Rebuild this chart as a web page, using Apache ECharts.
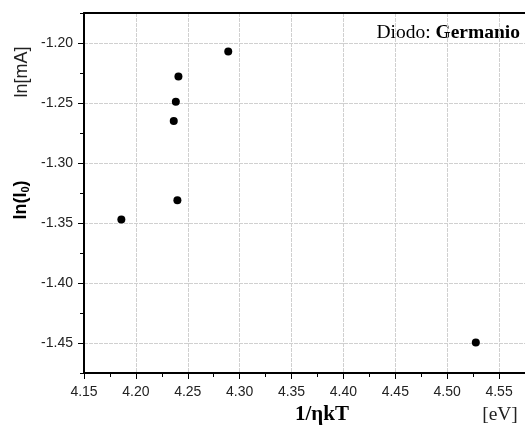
<!DOCTYPE html>
<html>
<head>
<meta charset="utf-8">
<script src="https://cdn.jsdelivr.net/npm/echarts@6/dist/echarts.min.js"></script>
<style>
  html, body { margin: 0; padding: 0; background: #fff; }
  #chart { width: 525px; height: 427px; }
</style>
</head>
<body>
<div id="chart"></div>
<script>
// Measured points: 1/(eta k T) in eV^-1 against ln(I0)
const xValues = [4.289, 4.241, 4.2385, 4.2365, 4.240, 4.186, 4.5276];
const yValues = [-1.207, -1.228, -1.249, -1.265, -1.331, -1.347, -1.4495];

// Axis ranges and tick positions
const xRange = [4.15, 4.575];
const yRange = [-1.475, -1.175];
const xMajorTicks = [4.15, 4.20, 4.25, 4.30, 4.35, 4.40, 4.45, 4.50, 4.55];
const xMinorTicks = [4.175, 4.225, 4.275, 4.325, 4.375, 4.425, 4.475, 4.525, 4.575];
const yMajorTicks = [-1.45, -1.40, -1.35, -1.30, -1.25, -1.20];
const yMinorTicks = [-1.475, -1.425, -1.375, -1.325, -1.275, -1.225, -1.175];

const sans = '"Liberation Sans", Arial, sans-serif';
const serif = '"Liberation Serif", "Times New Roman", serif';

const points = xValues.map((x, i) => [x, yValues[i]]);

const chart = echarts.init(document.getElementById('chart'), null, { renderer: 'canvas' });

const gridLine = { show: true, lineStyle: { color: '#d0d0d0', width: 1, type: [4, 1] } };
const axisBlack = { show: true, onZero: false, lineStyle: { color: '#000', width: 2 } };

chart.setOption({
  backgroundColor: '#fff',
  animation: false,
  grid: { left: 84, right: 0, top: 13, bottom: 54, containLabel: false },
  xAxis: [
    {
      type: 'value', min: xRange[0], max: xRange[1], position: 'bottom',
      axisLine: axisBlack,
      axisTick: { show: true, customValues: xMajorTicks, length: 6, lineStyle: { color: '#000', width: 1 } },
      axisLabel: { customValues: xMajorTicks, formatter: v => v.toFixed(2), color: '#222', fontFamily: sans, fontSize: 14, margin: 12 },
      splitLine: gridLine
    },
    {
      type: 'value', min: xRange[0], max: xRange[1], position: 'bottom',
      axisLine: { show: false },
      axisTick: { show: true, customValues: xMinorTicks, length: 4, lineStyle: { color: '#000', width: 1 } },
      axisLabel: { show: false },
      splitLine: { show: false }
    },
    {
      type: 'value', min: xRange[0], max: xRange[1], position: 'top',
      axisLine: axisBlack,
      axisTick: { show: false },
      axisLabel: { show: false },
      splitLine: { show: false }
    }
  ],
  yAxis: [
    {
      type: 'value', min: yRange[0], max: yRange[1], position: 'left',
      axisLine: axisBlack,
      axisTick: { show: true, customValues: yMajorTicks, length: 6, lineStyle: { color: '#000', width: 1 } },
      axisLabel: { customValues: yMajorTicks, formatter: v => v.toFixed(2), color: '#222', fontFamily: sans, fontSize: 14, margin: 11 },
      splitLine: gridLine
    },
    {
      type: 'value', min: yRange[0], max: yRange[1], position: 'left',
      axisLine: { show: false },
      axisTick: { show: true, customValues: yMinorTicks, length: 4, lineStyle: { color: '#000', width: 1 } },
      axisLabel: { show: false },
      splitLine: { show: false }
    }
  ],
  series: [{
    type: 'scatter',
    xAxisIndex: 0,
    yAxisIndex: 0,
    data: points,
    symbol: 'circle',
    symbolSize: 8,
    itemStyle: { color: '#000', opacity: 1 },
    clip: false
  }],
  graphic: [
    {
      type: 'text', x: 22, y: 72, rotation: Math.PI / 2,
      style: { text: 'ln[mA]', fontFamily: sans, fontSize: 18, fill: '#222', align: 'center', verticalAlign: 'middle' }
    },
    {
      type: 'text', x: 21, y: 200, rotation: Math.PI / 2,
      style: {
        text: '{a|ln(I}{s|0}{a|)}', align: 'center', verticalAlign: 'middle',
        rich: {
          a: { fontFamily: sans, fontSize: 18, fontWeight: 'bold', fill: '#000', lineHeight: 21 },
          s: { fontFamily: sans, fontSize: 11, fontWeight: 'bold', fill: '#000', lineHeight: 12, padding: [9, 0, 0, 0] }
        }
      }
    },
    {
      type: 'text', x: 322, y: 415,
      style: { text: '1/ηkT', fontFamily: serif, fontSize: 21, fontWeight: 'bold', fill: '#000', align: 'center', verticalAlign: 'middle' }
    },
    {
      type: 'text', x: 500, y: 415,
      style: { text: '[eV]', fontFamily: serif, fontSize: 19.5, fill: '#222', align: 'center', verticalAlign: 'middle' }
    },
    {
      type: 'text', x: 520, y: 33,
      style: {
        text: '{r|Diodo: }{b|Germanio}', align: 'right', verticalAlign: 'middle',
        rich: {
          r: { fontFamily: serif, fontSize: 19.5, fill: '#000' },
          b: { fontFamily: serif, fontSize: 19.5, fontWeight: 'bold', fill: '#000' }
        }
      }
    }
  ]
});
</script>
</body>
</html>
